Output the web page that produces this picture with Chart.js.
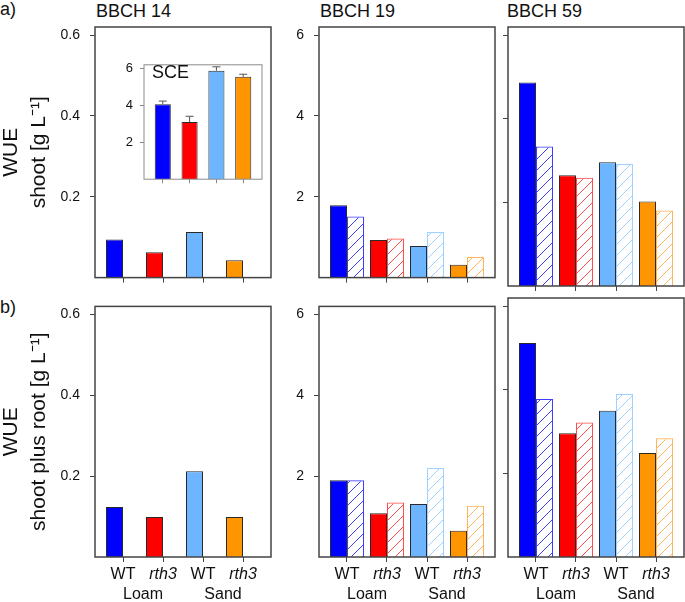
<!DOCTYPE html>
<html>
<head>
<meta charset="utf-8">
<script src="https://cdn.jsdelivr.net/npm/chart.js@4.4.0/dist/chart.umd.min.js"></script>
<style>
  body { margin: 0; background: #fff; width: 685px; height: 602px; overflow: hidden; position: relative; font-family: "Liberation Sans", Arial, sans-serif; }
  canvas { position: absolute; }
  .lbl { position: absolute; font-size: 18px; color: #111; white-space: nowrap; line-height: 1.15; }
</style>
</head>
<body>
<div class="lbl" style="left:0;top:-1px">a)</div>
<div class="lbl" style="left:0;top:297px">b)</div>
<div class="lbl" style="left:96px;top:1px">BBCH 14</div>
<div class="lbl" style="left:320px;top:1px">BBCH 19</div>
<div class="lbl" style="left:507px;top:1px">BBCH 59</div>

<canvas id="a14"></canvas>
<canvas id="a19"></canvas>
<canvas id="a59"></canvas>
<canvas id="b14"></canvas>
<canvas id="b19"></canvas>
<canvas id="b59"></canvas>
<canvas id="sce" style="z-index:2"></canvas>
<div class="lbl" style="left:152px;top:62px;z-index:3">SCE</div>

<script>
const groups = ['WT', 'rth3', 'WT', 'rth3']
const soils = ['Loam', 'Sand']
const colors = ['#0000ff', '#ff0000', '#6db6ff', '#ff9500']
const hatchColors = ['#3d3dff', '#ff4d4d', '#9fd0ff', '#ffb45a']

// a) WUE shoot, solid and hatched bars
const shoot14 = [0.094, 0.063, 0.113, 0.043]
const shoot19 = [1.79, 0.93, 0.78, 0.32]
const shoot19b = [1.51, 0.97, 1.13, 0.51]
const shoot59 = [4.87, 2.65, 2.96, 2.02]
const shoot59b = [3.34, 2.59, 2.92, 1.81]

// b) WUE shoot plus root
const total14 = [0.124, 0.099, 0.212, 0.099]
const total19 = [1.90, 1.08, 1.31, 0.65]
const total19b = [1.90, 1.35, 2.20, 1.27]
const total59 = [5.12, 2.96, 3.50, 2.49]
const total59b = [3.78, 3.22, 3.90, 2.84]

// inset SCE with upper error bars
const sce = [4.05, 3.09, 5.86, 5.53]
const sceErr = [0.17, 0.31, 0.21, 0.14]

const ticksSmall = [0.2, 0.4, 0.6]
const ticksBig = [2, 4, 6]
const ticksSce = [2, 4, 6]

const FONT = '"Liberation Sans", Arial, sans-serif'

function hatch(color) {
  const c = document.createElement('canvas')
  c.width = c.height = 11
  const g = c.getContext('2d')
  g.strokeStyle = color
  g.lineWidth = 1
  g.beginPath()
  g.moveTo(0, 11); g.lineTo(11, 0)
  g.moveTo(-1, 1); g.lineTo(1, -1)
  g.moveTo(10, 12); g.lineTo(12, 10)
  g.stroke()
  return g.createPattern(c, 'repeat')
}

const frame = {
  id: 'frame',
  afterDatasetsDraw(chart, args, opts) {
    const {ctx, chartArea: a} = chart
    ctx.save()
    ctx.strokeStyle = opts.color
    ctx.lineWidth = opts.width
    ctx.strokeRect(a.left, a.top, a.right - a.left, a.bottom - a.top)
    ctx.restore()
  }
}

const soilLabels = {
  id: 'soilLabels',
  afterDraw(chart, args, opts) {
    if (!opts.show) return
    const x = chart.scales.x, ctx = chart.ctx
    ctx.save()
    ctx.font = '16px ' + FONT
    ctx.fillStyle = '#111'
    ctx.textAlign = 'center'
    ctx.textBaseline = 'middle'
    soils.forEach((s, i) => ctx.fillText(s, x.getPixelForValue(i * 2 + 0.5), chart.chartArea.bottom + opts.offset))
    ctx.restore()
  }
}

const errorBars = {
  id: 'errorBars',
  afterDatasetsDraw(chart, args, opts) {
    if (!opts.errors) return
    const ctx = chart.ctx, y = chart.scales.y
    const meta = chart.getDatasetMeta(0)
    ctx.save()
    ctx.strokeStyle = '#555'
    ctx.lineWidth = 1
    meta.data.forEach((bar, i) => {
      const top = y.getPixelForValue(sce[i] + opts.errors[i])
      ctx.beginPath()
      ctx.moveTo(bar.x, bar.y); ctx.lineTo(bar.x, top)
      ctx.moveTo(bar.x - 4, top); ctx.lineTo(bar.x + 4, top)
      ctx.stroke()
    })
    ctx.restore()
  }
}

function pts(arr) {
  return arr.map((v, i) => ({x: i, y: v}))
}

// box = canvas rect on the page, area = plot frame on the page
function makePanel(id, box, area, cfg) {
  const cv = document.getElementById(id)
  cv.style.left = box.x + 'px'
  cv.style.top = box.y + 'px'
  cv.width = box.w
  cv.height = box.h
  const axisW = area.x0 - box.x
  const axisH = box.y + box.h - area.y1

  const datasets = [{
    data: pts(cfg.solid),
    backgroundColor: colors,
    borderColor: '#2a2a2a',
    borderWidth: 1,
  }]
  if (!cfg.single) {
    datasets.push({
      data: pts(cfg.hatched || [null, null, null, null]),
      backgroundColor: hatchColors.map(hatch),
      borderColor: hatchColors,
      borderWidth: 1,
    })
  }

  return new Chart(cv, {
    type: 'bar',
    data: {datasets},
    options: {
      responsive: false,
      animation: false,
      events: [],
      categoryPercentage: cfg.catPct || 0.85,
      barPercentage: 1,
      borderSkipped: 'start',
      layout: {
        autoPadding: false,
        padding: {left: 0, top: area.y0 - box.y, right: box.x + box.w - area.x1, bottom: 0}
      },
      plugins: {
        legend: {display: false},
        tooltip: {enabled: false},
        frame: {color: cfg.frameColor || '#444', width: cfg.frameWidth || 1.5},
        soilLabels: {show: !!cfg.xLabels, offset: 38},
        errorBars: {errors: cfg.errors},
      },
      scales: {
        x: {
          type: 'linear',
          min: -0.7,
          max: 3.7,
          offset: false,
          border: {display: false},
          grid: {offset: false, drawOnChartArea: false, tickLength: cfg.tickLen || 5, tickColor: cfg.tickColor || '#444'},
          ticks: {
            display: !!cfg.xLabels,
            padding: 3,
            color: '#111',
            font: (c) => ({family: FONT, size: 16, style: c.index % 2 ? 'italic' : 'normal'}),
            callback: (v, i) => groups[i],
          },
          afterBuildTicks: (s) => { s.ticks = [0, 1, 2, 3].map(v => ({value: v})) },
          afterFit: (s) => { s.height = axisH },
        },
        y: {
          min: 0,
          max: cfg.max,
          border: {display: false},
          grid: {drawOnChartArea: false, tickLength: cfg.tickLen || 5, tickColor: cfg.tickColor || '#444'},
          ticks: {
            display: cfg.yLabels !== false,
            padding: cfg.yPad || 10,
            color: '#111',
            font: {family: FONT, size: cfg.yFont || 14},
          },
          title: {
            display: !!cfg.title,
            text: cfg.title,
            color: '#111',
            font: {family: FONT, size: 21, lineHeight: 1.35},
            padding: {top: 0, bottom: 0},
          },
          afterBuildTicks: (s) => { s.ticks = cfg.ticks.map(v => ({value: v})) },
          afterFit: (s) => { s.width = axisW },
        }
      }
    },
    plugins: [frame, soilLabels, errorBars]
  })
}

const col1 = {box: {x: -3, w: 277}, x0: 95, x1: 271}
const col2 = {box: {x: 290, w: 208}, x0: 319, x1: 495}
const col3 = {box: {x: 498, w: 187}, x0: 508, x1: 684}
const rowA = {box: {y: 0, h: 296}, y0: 27, y1: 286}
const rowB = {box: {y: 288, h: 314}, y0: 298, y1: 557}

function place(col, row) {
  return [
    {x: col.box.x, w: col.box.w, y: row.box.y, h: row.box.h},
    {x0: col.x0, x1: col.x1, y0: row.y0, y1: row.y1}
  ]
}

makePanel('a14', ...place(col1, rowA), {solid: shoot14, max: 0.62, ticks: ticksSmall, title: ['WUE', 'shoot [g L\u207B\u00B9]']})
makePanel('a19', ...place(col2, rowA), {solid: shoot19, hatched: shoot19b, max: 6.2, ticks: ticksBig})
makePanel('a59', ...place(col3, rowA), {solid: shoot59, hatched: shoot59b, max: 6.2, ticks: ticksBig, yLabels: false})
makePanel('b14', ...place(col1, rowB), {solid: total14, max: 0.62, ticks: ticksSmall, xLabels: true, title: ['WUE', 'shoot plus root [g L\u207B\u00B9]']})
makePanel('b19', ...place(col2, rowB), {solid: total19, hatched: total19b, max: 6.2, ticks: ticksBig, xLabels: true})
makePanel('b59', ...place(col3, rowB), {solid: total59, hatched: total59b, max: 6.2, ticks: ticksBig, yLabels: false, xLabels: true})

makePanel('sce', {x: 118, y: 50, w: 147, h: 144}, {x0: 144, x1: 262, y0: 55, y1: 188},
  {solid: sce, single: true, catPct: 0.6, max: 6.18, ticks: ticksSce, yFont: 13, yPad: 7, tickLen: 4,
   tickColor: '#888', frameColor: '#8c8c8c', frameWidth: 1, errors: sceErr})
</script>
</body>
</html>
